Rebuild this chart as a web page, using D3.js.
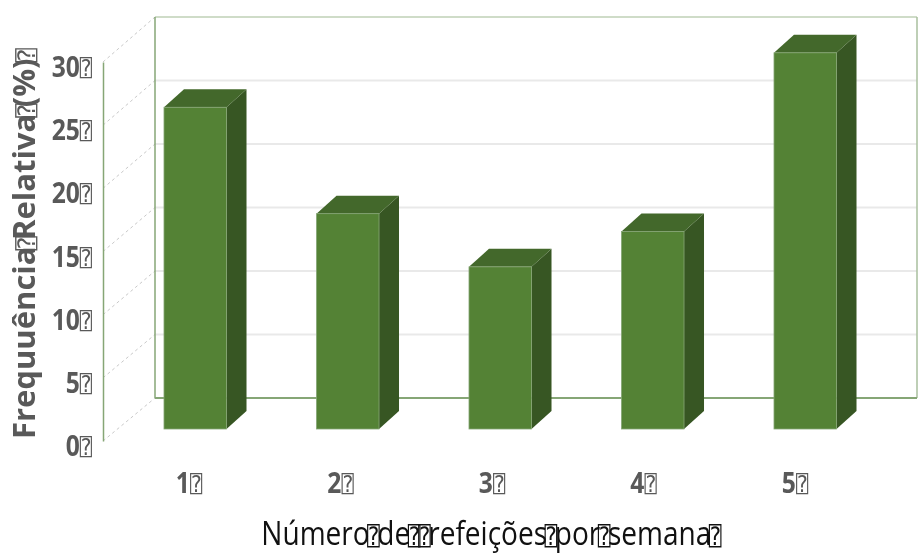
<!DOCTYPE html>
<html>
<head>
<meta charset="utf-8">
<script src="https://cdn.jsdelivr.net/npm/d3@7"></script>
<style>
    body { margin: 0; background: #fff; }
    svg { display: block; filter: blur(0.45px); }
    .tick-label { font-family: "Open Sans", sans-serif; font-weight: 700; font-size: 28px; fill: #595959; }
    .box { font-family: "DejaVu Sans Mono", monospace; font-weight: 400; }
</style>
</head>
<body>
<div id="chart"></div>
<script>
var categories = ['1', '2', '3', '4', '5'];
var values = [25.4, 17, 12.8, 15.6, 29.7];
var yTicks = [0, 5, 10, 15, 20, 25, 30];
var boxChar = '\u2370';
var xTitleParts = ['Número', 'de', '', 'refeições', 'por', 'semana'];
var yTitleParts = ['Frequuência', 'Relativa', '(%)'];

var width = 919, height = 554;
var depth = {x: 20, y: -18};

var svg = d3.select('#chart').append('svg')
    .attr('width', width)
    .attr('height', height);

// front plane of the axis, back wall and the plane of the bars
var yFront = d3.scaleLinear().domain([0, 30]).range([441, 62]);
var yWall = d3.scaleLinear().domain([0, 30]).range([398, 17]);
var yBar = d3.scaleLinear().domain([0, 30]).range([429, 49]);
var x = d3.scaleBand().domain(categories).range([119, 881.5]).paddingInner(0.59).paddingOuter(0.295);
var xLabels = d3.scalePoint().domain(categories).range([188.5, 794.5]);

// Wall gridlines
svg.selectAll('.grid')
    .data(yTicks.slice(1))
    .enter().append('line')
    .attr('class', 'grid')
    .attr('x1', 155)
    .attr('x2', 917)
    .attr('y1', d => yWall(d))
    .attr('y2', d => yWall(d))
    .attr('stroke', d => d === 30 ? '#cfdcc8' : '#e9e9e9')
    .attr('stroke-width', 2);

// Depth lines from the axis to the wall
svg.selectAll('.depth')
    .data(yTicks)
    .enter().append('line')
    .attr('class', 'depth')
    .attr('x1', 103)
    .attr('x2', 155)
    .attr('y1', d => yFront(d))
    .attr('y2', d => yWall(d))
    .attr('stroke', '#c8c8c8')
    .attr('stroke-width', 1)
    .attr('stroke-dasharray', '3,3');

// Wall frame
var frameColor = '#86a676';
svg.append('line').attr('x1', 155).attr('x2', 155).attr('y1', yWall(30)).attr('y2', yWall(0))
    .attr('stroke', frameColor).attr('stroke-width', 1.5);
svg.append('line').attr('x1', 917).attr('x2', 917).attr('y1', yWall(30)).attr('y2', yWall(0))
    .attr('stroke', '#a9bf9e').attr('stroke-width', 1.5);
svg.append('line').attr('x1', 155).attr('x2', 917).attr('y1', yWall(0)).attr('y2', yWall(0))
    .attr('stroke', frameColor).attr('stroke-width', 2);

// Bars
var bars = svg.selectAll('.bar')
    .data(categories)
    .enter().append('g')
    .attr('class', 'bar');

function poly(points) {
    return d3.line()(points) + 'Z';
}

bars.append('path')
    .attr('fill', '#375623')
    .attr('d', function(d, i) {
        var r = x(d) + x.bandwidth();
        return poly([[r, yBar(values[i])], [r + depth.x, yBar(values[i]) + depth.y],
                     [r + depth.x, yBar(0) + depth.y], [r, yBar(0)]]);
    });

bars.append('path')
    .attr('fill', '#43682b')
    .attr('d', function(d, i) {
        var l = x(d), r = l + x.bandwidth(), t = yBar(values[i]);
        return poly([[l, t], [l + depth.x, t + depth.y], [r + depth.x, t + depth.y], [r, t]]);
    });

bars.append('rect')
    .attr('x', d => x(d))
    .attr('y', (d, i) => yBar(values[i]))
    .attr('width', x.bandwidth())
    .attr('height', (d, i) => yBar(0) - yBar(values[i]))
    .attr('fill', '#548235')
    .attr('stroke', '#86a676')
    .attr('stroke-width', 0.8);

// Tick labels, each followed by the boxed glyph of the original
function tickLabel(sel) {
    sel.text('');
    sel.append('tspan').text(d => d);
    sel.append('tspan')
        .attr('class', 'box')
        .attr('font-size', 23)
        .attr('dy', -1)
        .text(boxChar);
}

// yAxis
svg.append('g')
    .attr('transform', 'translate(103,0)')
    .call(d3.axisLeft(yFront).tickValues(yTicks).tickSize(0))
    .call(g => g.select('.domain').attr('stroke', frameColor).attr('stroke-width', 1.5))
    .call(g => g.selectAll('.tick text')
        .attr('class', 'tick-label')
        .attr('x', null)
        .attr('dy', null)
        .attr('text-anchor', 'end')
        .attr('transform', 'translate(-11,14.5) scale(0.88,1)')
        .call(tickLabel));

// xAxis
svg.append('g')
    .call(d3.axisBottom(xLabels).tickSize(0))
    .call(g => g.select('.domain').remove())
    .call(g => g.selectAll('.tick text')
        .attr('class', 'tick-label')
        .attr('y', null)
        .attr('dy', null)
        .attr('text-anchor', 'middle')
        .attr('transform', 'translate(0,493) scale(0.88,1)')
        .call(tickLabel));

// Axis titles
function titleParts(sel, parts, boxSize, boxDx) {
    parts.forEach(function(part) {
        if (part) sel.append('tspan').attr('dx', boxDx).text(part);
        sel.append('tspan')
            .attr('class', 'box')
            .attr('font-size', boxSize)
            .attr('dx', boxDx)
            .text(boxChar);
    });
}

svg.append('text')
    .attr('text-anchor', 'middle')
    .attr('transform', 'translate(494,545) scale(0.85,1)')
    .style('font-family', '"Open Sans", sans-serif')
    .style('font-size', '33px')
    .style('fill', '#111')
    .call(titleParts, xTitleParts, 25, -3);

svg.append('text')
    .attr('text-anchor', 'middle')
    .attr('transform', 'translate(35,239.5) rotate(-90)')
    .style('font-family', '"Open Sans", sans-serif')
    .style('font-weight', 700)
    .style('font-size', '31px')
    .style('fill', '#595959')
    .call(titleParts, yTitleParts, 24, -4);
</script>
</body>
</html>
